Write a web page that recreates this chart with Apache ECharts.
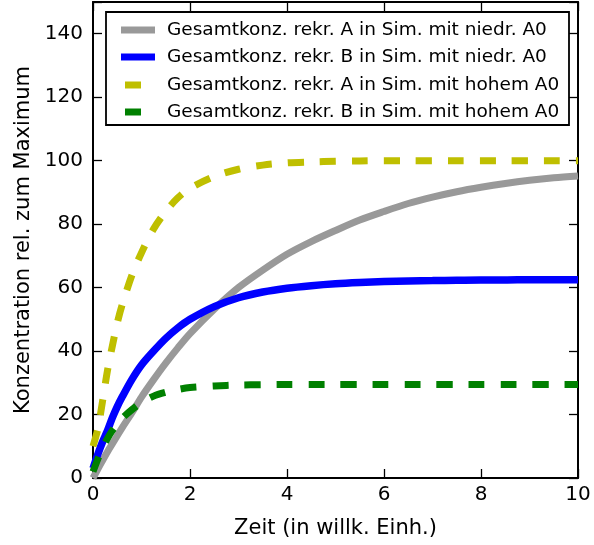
<!DOCTYPE html>
<html>
<head>
<meta charset="utf-8">
<script src="https://cdn.jsdelivr.net/npm/echarts@6/dist/echarts.min.js"></script>
<style>html,body{margin:0;padding:0;background:#fff}#c{width:594px;height:545px}</style>
</head>
<body>
<div id="c"></div>
<script>
const seriesNames = [
  'Gesamtkonz. rekr. A in Sim. mit niedr. A0',
  'Gesamtkonz. rekr. B in Sim. mit niedr. A0',
  'Gesamtkonz. rekr. A in Sim. mit hohem A0',
  'Gesamtkonz. rekr. B in Sim. mit hohem A0'
];
const time = [0,0.1,0.2,0.3,0.4,0.5,0.6,0.8,1,1.25,1.5,1.75,2,2.5,3,3.5,4,4.5,5,5.5,6,6.5,7,7.5,8,8.5,9,9.5,10];
const aLow  = [0,2.8,5.6,8.3,10.8,13.3,15.8,20.5,25.5,31,36.2,41,45.5,53.2,60,65.5,70.5,74.5,78,81.3,84,86.5,88.5,90.2,91.6,92.8,93.8,94.6,95.2];
const bLow  = [3,7.5,11.5,15,19,22.5,25.5,31,35.6,40,44,47.3,50,54,56.8,58.6,59.8,60.6,61.2,61.6,61.9,62.1,62.2,62.3,62.4,62.4,62.5,62.5,62.5];
const aHigh = [10,15.5,24.5,34,41.7,48.8,54.5,63.8,71,78.5,84,88.3,91.3,95,97.3,98.6,99.3,99.6,99.8,99.9,100,100,100,100,100,100,100,100,100];
const bHigh = [2,6,9.5,12.5,15,17,18.8,21.5,23.8,25.8,27,27.9,28.5,29,29.3,29.4,29.5,29.5,29.5,29.5,29.5,29.5,29.5,29.5,29.5,29.5,29.5,29.5,29.5];
const xTicks = [0,2,4,6,8,10];
const yTicks = [0,20,40,60,80,100,120,140];

const FONT = 'DejaVu Sans';
const pairs = arr => time.map((t,i)=>[t,arr[i]]);
const chart = echarts.init(document.getElementById('c'), null, {renderer:'canvas'});
const tick = () => ({show:true, inside:true, length:9, lineStyle:{color:'#000', width:1.3}});
const line = () => ({show:true, onZero:false, lineStyle:{color:'#000', width:2}});
chart.setOption({
  animation:false,
  backgroundColor:'#fff',
  grid:{left:93, right:16, top:2, bottom:67, show:false},
  xAxis:[
    {type:'value', min:0, max:10, interval:2, position:'bottom', splitLine:{show:false},
      axisLine:line(), axisTick:tick(),
      axisLabel:{color:'#000', fontFamily:FONT, fontSize:20, margin:7, formatter:v=>xTicks.includes(v)?String(v):''},
      name:'Zeit (in willk. Einh.)', nameLocation:'middle', nameGap:40,
      nameTextStyle:{color:'#000', fontFamily:FONT, fontSize:21}},
    {type:'value', min:0, max:10, interval:2, position:'top', splitLine:{show:false},
      axisLine:line(), axisTick:tick(), axisLabel:{show:false}}
  ],
  yAxis:[
    {type:'value', min:0, max:150, interval:20, position:'left', splitLine:{show:false},
      axisLine:line(), axisTick:tick(),
      axisLabel:{color:'#000', fontFamily:FONT, fontSize:20, margin:10, formatter:v=>yTicks.includes(v)?String(v):''},
      name:'Konzentration rel. zum Maximum', nameLocation:'middle', nameGap:59,
      nameTextStyle:{color:'#000', fontFamily:FONT, fontSize:21}},
    {type:'value', min:0, max:150, interval:20, position:'right', splitLine:{show:false},
      axisLine:line(), axisTick:tick(), axisLabel:{show:false}}
  ],
  legend:[
    {data:[seriesNames[0], seriesNames[1]], orient:'vertical', left:116, top:15, icon:'rect',
     itemWidth:34, itemHeight:7, itemGap:7,
     textStyle:{color:'#000', fontFamily:FONT, fontSize:18.5, lineHeight:20, padding:[0,0,0,7]}},
    {data:[seriesNames[2], seriesNames[3]], orient:'vertical', left:120, top:70, icon:'rect',
     itemWidth:16, itemHeight:7, itemGap:7,
     textStyle:{color:'#000', fontFamily:FONT, fontSize:18.5, lineHeight:20, padding:[0,0,0,21]}}
  ],
  graphic:[{type:'rect', shape:{x:106, y:12, width:463, height:113}, style:{fill:'#fff', stroke:'#000', lineWidth:1.8}, z:-1}],
  series:[
    {name:seriesNames[0], type:'line', data:pairs(aLow), smooth:0.3, symbol:'none', color:'#999999', lineStyle:{width:7, color:'#999999'}},
    {name:seriesNames[1], type:'line', data:pairs(bLow), smooth:0.3, symbol:'none', color:'#0000ff', lineStyle:{width:7.5, color:'#0000ff'}},
    {name:seriesNames[2], type:'line', data:pairs(aHigh), smooth:0.3, symbol:'none', color:'#bfbf00', lineStyle:{width:7, color:'#bfbf00', type:[16,16], cap:'butt'}},
    {name:seriesNames[3], type:'line', data:pairs(bHigh), smooth:0.3, symbol:'none', color:'#008000', lineStyle:{width:7, color:'#008000', type:[16,16], cap:'butt'}}
  ]
});
</script>
</body>
</html>
